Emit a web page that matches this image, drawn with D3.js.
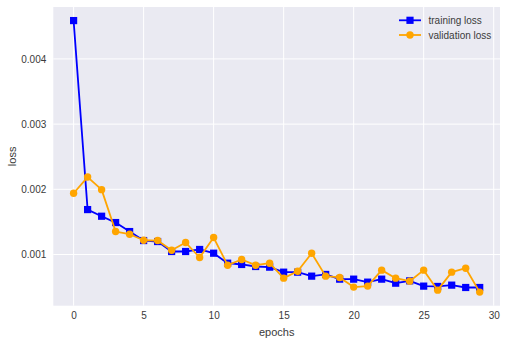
<!DOCTYPE html>
<html>
<head>
<meta charset="utf-8">
<script src="https://cdn.jsdelivr.net/npm/d3@7"></script>
<style>
  html, body { margin: 0; padding: 0; background: #fff; }
  svg { display: block; }
  text { font-family: "Liberation Sans", Arial, sans-serif; fill: #3a3a3a; }
</style>
</head>
<body>
<svg id="chart" width="507" height="344"></svg>
<script>
const epochs = d3.range(0, 30);
const trainingLoss = [0.004588, 0.001689, 0.001587, 0.00149, 0.001352, 0.001214, 0.001199, 0.001046, 0.001046, 0.001077,
  0.00102, 0.000867, 0.000847, 0.000816, 0.000806, 0.000729, 0.000729, 0.000668, 0.000694, 0.000622,
  0.000622, 0.000576, 0.000622, 0.00056, 0.000596, 0.000515, 0.00051, 0.00053, 0.000494, 0.000494];
const validationLoss = [0.001939, 0.002188, 0.001995, 0.001352, 0.001311, 0.001219, 0.001214, 0.001066, 0.001184, 0.000954,
  0.00126, 0.000836, 0.000923, 0.000836, 0.000867, 0.000637, 0.000744, 0.00102, 0.000668, 0.000648,
  0.0005, 0.000515, 0.00076, 0.000637, 0.000591, 0.00076, 0.000453, 0.000729, 0.00079, 0.000423];
const xTicks = [0, 5, 10, 15, 20, 25, 30];
const yTicks = [0.001, 0.002, 0.003, 0.004];
const seriesNames = ["training loss", "validation loss"];

const svg = d3.select("#chart");
const L = 53.3, R = 500, T = 7, B = 305.7;

const xMin = 0, xMax = 29, xPad = (xMax - xMin) * 0.05;
const allY = trainingLoss.concat(validationLoss);
const yMin = d3.min(allY), yMax = d3.max(allY), yPad = (yMax - yMin) * 0.05;

const x = d3.scaleLinear().domain([xMin - xPad, xMax + xPad]).range([L, R]);
const y = d3.scaleLinear().domain([yMin - yPad, yMax + yPad]).range([B, T]);

svg.append("rect").attr("x", L).attr("y", T).attr("width", R - L).attr("height", B - T).attr("fill", "#EAEAF2");

// grid
const grid = svg.append("g");
grid.selectAll("line.vx").data(xTicks).join("line")
  .attr("x1", d => x(d)).attr("x2", d => x(d)).attr("y1", T).attr("y2", B)
  .attr("stroke", "#fff").attr("stroke-width", 1);
grid.selectAll("line.hy").data(yTicks).join("line")
  .attr("y1", d => y(d)).attr("y2", d => y(d)).attr("x1", L).attr("x2", R)
  .attr("stroke", "#fff").attr("stroke-width", 1);

// axes (labels only)
const xAxis = d3.axisBottom(x).tickValues(xTicks).tickSize(0).tickPadding(6).tickFormat(d3.format("d"));
const gx = svg.append("g").attr("transform", `translate(0,${B})`).call(xAxis);
gx.select(".domain").remove();
gx.selectAll("text").attr("font-size", 10).attr("fill", "#3a3a3a").attr("font-family", "Liberation Sans, Arial, sans-serif");

const yAxis = d3.axisLeft(y).tickValues(yTicks).tickSize(0).tickPadding(7).tickFormat(d3.format(".3f"));
const gy = svg.append("g").attr("transform", `translate(${L},0)`).call(yAxis);
gy.select(".domain").remove();
gy.selectAll("text").attr("font-size", 10).attr("fill", "#3a3a3a").attr("font-family", "Liberation Sans, Arial, sans-serif");

svg.append("text").attr("x", (L + R) / 2).attr("y", 335.5).attr("text-anchor", "middle")
  .attr("font-size", 11).text("epochs");
svg.append("text").attr("transform", `translate(15.5,${(T + B) / 2}) rotate(-90)`).attr("text-anchor", "middle")
  .attr("font-size", 11).text("loss");

const line = d3.line().x((d, i) => x(epochs[i])).y(d => y(d));
const plot = svg.append("g");

// training
plot.append("path").datum(trainingLoss).attr("d", line).attr("fill", "none")
  .attr("stroke", "blue").attr("stroke-width", 1.8).attr("stroke-linejoin", "round");
plot.selectAll("rect.tm").data(trainingLoss).join("rect").attr("class", "tm")
  .attr("x", (d, i) => x(epochs[i]) - 3.6).attr("y", d => y(d) - 3.6)
  .attr("width", 7.2).attr("height", 7.2).attr("fill", "blue");

// validation
plot.append("path").datum(validationLoss).attr("d", line).attr("fill", "none")
  .attr("stroke", "orange").attr("stroke-width", 1.8).attr("stroke-linejoin", "round");
plot.selectAll("circle.vm").data(validationLoss).join("circle").attr("class", "vm")
  .attr("cx", (d, i) => x(epochs[i])).attr("cy", d => y(d)).attr("r", 3.7).attr("fill", "orange");

// legend
const colors = ["blue", "orange"];
const lg = svg.append("g");
seriesNames.forEach((name, i) => {
  const cy = 20.3 + i * 14.7;
  lg.append("line").attr("x1", 399).attr("x2", 421).attr("y1", cy).attr("y2", cy)
    .attr("stroke", colors[i]).attr("stroke-width", 1.8);
  if (i === 0) {
    lg.append("rect").attr("x", 410 - 3.6).attr("y", cy - 3.6).attr("width", 7.2).attr("height", 7.2).attr("fill", colors[i]);
  } else {
    lg.append("circle").attr("cx", 410).attr("cy", cy).attr("r", 3.7).attr("fill", colors[i]);
  }
  lg.append("text").attr("x", 428.5).attr("y", cy + 3.5).attr("font-size", 10).text(name);
});
</script>
</body>
</html>
